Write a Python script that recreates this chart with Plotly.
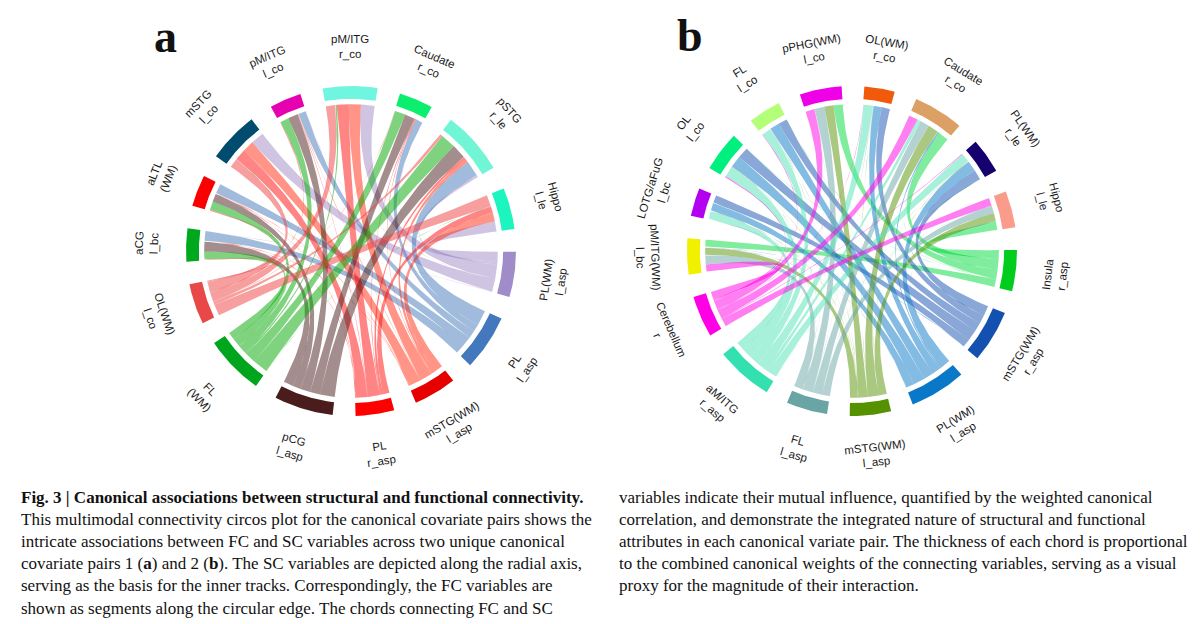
import numpy as np
import plotly.graph_objects as go

# ---------- panel a data ----------
a_labels = ["pM/ITG<br>r_co", "Caudate<br>r_co", "pSTG<br>r_le", "Hippo<br>l_le",
            "PL(WM)<br>l_asp", "PL<br>l_asp", "mSTG(WM)<br>l_asp", "PL<br>r_asp", "pCG<br>l_asp",
            "FL<br>(WM)", "OL(WM)<br>l_co", "aCG<br>l_bc", "aLTL<br>(WM)", "mSTG<br>l_co", "pM/ITG<br>l_co"]
a_targets = [0, 1, 2, 3, 11, 12, 13, 14]
a_sources = [4, 5, 6, 7, 8, 9, 10]
# weight of each source towards targets, in a_targets order
a_PLWM = [5.4, 0.2, 0.9, 4.0, 0.1, 0.0, 5.2, 0.1]
a_PL   = [0.0, 2.8, 6.2, 0.0, 3.8, 3.8, 0.0, 3.0]
a_mSTG = [4.8, 0.3, 1.4, 3.4, 0.2, 0.2, 4.6, 0.2]
a_PLr  = [4.7, 0.3, 1.0, 2.6, 0.2, 0.2, 4.4, 0.2]
a_pCG  = [0.0, 4.0, 5.8, 0.0, 3.9, 3.2, 0.0, 3.9]
a_FL   = [0.7, 4.2, 6.0, 0.1, 3.0, 3.4, 0.1, 3.4]
a_OL   = [3.6, 0.2, 1.2, 4.5, 0.4, 0.4, 3.6, 0.4]
a_colors = ["#70F5E0", "#0CEE6E", "#70F5D5", "#1CF5BE", "#A08CC8", "#4478BC", "#E60000", "#FF0000",
            "#4A1C1C", "#00A51E", "#E84848", "#00A81E", "#FA0000", "#004C6E", "#E600B0"]
a_link_colors = dict(zip(a_sources, ["#A08CC8", "#4478BC", "#FF2A10", "#FF0A0A", "#4A1C1C", "#00A800", "#F04040"]))

# ---------- panel b data ----------
b_labels = ["OL(WM)<br>r_co", "Caudate<br>r_co", "PL(WM)<br>r_le", "Hippo<br>l_le", "Insula<br>r_asp",
            "mSTG(WM)<br>r_asp", "PL(WM)<br>l_asp", "mSTG(WM)<br>l_asp", "FL<br>l_asp", "aM/ITG<br>r_asp",
            "Cerebellum<br>r", "pM/ITG(WM)<br>l_bc", "LOTG/aFuG<br>l_bc", "OL<br>l_co", "FL<br>l_co",
            "pPHG(WM)<br>l_co"]
b_targets = [0, 1, 2, 3, 11, 12, 13, 14, 15]
b_sources = [4, 5, 6, 7, 8, 9, 10]
b_Ins  = [0.0, 4.2, 0.2, 3.3, 3.0, 0.0, 0.1, 0.1, 3.6]
b_mSTr = [3.3, 0.1, 4.0, 0.0, 0.1, 3.2, 4.4, 3.4, 0.0]
b_PLl  = [3.2, 0.6, 4.2, 0.1, 0.1, 3.2, 4.6, 3.9, 0.0]
b_mSTl = [0.1, 4.2, 0.1, 3.2, 3.0, 0.1, 0.1, 0.1, 3.6]
b_FLl  = [0.1, 3.6, 0.1, 3.0, 3.4, 0.1, 0.1, 0.1, 4.0]
b_aM   = [3.8, 1.4, 3.5, 0.1, 0.1, 3.2, 4.4, 3.6, 0.1]
b_Cer  = [0.2, 3.6, 0.3, 3.2, 3.0, 0.1, 0.4, 0.3, 3.5]
b_colors = ["#F05A0A", "#DCA064", "#14006E", "#FA9B8C", "#00CD1E", "#1450AF", "#0A78C8", "#559100",
            "#69A5A5", "#32E1AF", "#FF00E6", "#F0F000", "#B400F0", "#00F080", "#B4FF78", "#F000E6"]
b_link_colors = dict(zip(b_sources, ["#00DC3C", "#1450AF", "#0A78C8", "#559100", "#69A5A5", "#50E1B4", "#FF00E6"]))

# ---------- caption ----------
caption_left = [
    "<b>Fig. 3 | Canonical associations between structural and functional connectivity.</b>",
    "This multimodal connectivity circos plot for the canonical covariate pairs shows the",
    "intricate associations between FC and SC variables across two unique canonical",
    "covariate pairs 1 (<b>a</b>) and 2 (<b>b</b>). The SC variables are depicted along the radial axis,",
    "serving as the basis for the inner tracks. Correspondingly, the FC variables are",
    "shown as segments along the circular edge. The chords connecting FC and SC",
]
caption_right = [
    "variables indicate their mutual influence, quantified by the weighted canonical",
    "correlation, and demonstrate the integrated nature of structural and functional",
    "attributes in each canonical variate pair. The thickness of each chord is proportional",
    "to the combined canonical weights of the connecting variables, serving as a visual",
    "proxy for the magnitude of their interaction.",
]

W, H = 1200, 624
R_OUT, R_IN, R_CHORD, R_LABEL = 1.0, 0.922, 0.89, 1.24
PX = 165.0


def pol(theta_deg, r):
    t = np.radians(theta_deg)
    return r * np.sin(t), r * np.cos(t)


def arc(a0, a1, r, n=40):
    return pol(np.linspace(a0, a1, n), r)


def bez(p, q, n=60):
    t = np.linspace(0, 1, n)
    return (1 - t) ** 2 * p[0] + t ** 2 * q[0], (1 - t) ** 2 * p[1] + t ** 2 * q[1]


def hex_rgba(c, alpha):
    return f"rgba({int(c[1:3],16)},{int(c[3:5],16)},{int(c[5:7],16)},{alpha})"


def add_panel(fig, labels, colors, link_colors, sources, targets, matrix, start, xa, ya, xref, yref):
    n = len(labels)
    totals = [0.0] * n
    for i, s in enumerate(sources):
        for j, t in enumerate(targets):
            totals[s] += matrix[i][j]
            totals[t] += matrix[i][j]
    gap = (360 - sum(totals)) / n
    starts, pos = [], start
    for v in totals:
        starts.append(pos)
        pos += v + gap
    mids = [starts[k] + totals[k] / 2 for k in range(n)]

    band = {}
    for k in range(n):
        if k in sources:
            i = sources.index(k)
            others = [(targets[j], matrix[i][j]) for j in range(len(targets))]
        else:
            j = targets.index(k)
            others = [(sources[i], matrix[i][j]) for i in range(len(sources))]
        others.sort(key=lambda o: -((mids[o[0]] - mids[k]) % 360))
        pos = starts[k]
        for other, w in others:
            band[(k, other)] = (pos, pos + w)
            pos += w

    def scat(x, y, color):
        fig.add_trace(go.Scatter(x=x, y=y, mode="lines", fill="toself", fillcolor=color,
                                 line=dict(width=0), hoverinfo="skip", showlegend=False,
                                 xaxis=xa, yaxis=ya))

    for i, s in enumerate(sources):
        for j, t in enumerate(targets):
            if matrix[i][j] <= 0:
                continue
            s0, s1 = band[(s, t)]
            t0, t1 = band[(t, s)]
            ax, ay = arc(s0, s1, R_CHORD, 12)
            bx, by = arc(t0, t1, R_CHORD, 12)
            c1x, c1y = bez(pol(s1, R_CHORD), pol(t0, R_CHORD))
            c2x, c2y = bez(pol(t1, R_CHORD), pol(s0, R_CHORD))
            scat(np.r_[ax, c1x, bx, c2x].round(4).tolist(), np.r_[ay, c1y, by, c2y].round(4).tolist(),
                 hex_rgba(link_colors[s], 0.5))

    for k in range(n):
        ox, oy = arc(starts[k], starts[k] + totals[k], R_OUT)
        ix, iy = arc(starts[k] + totals[k], starts[k], R_IN)
        scat(np.r_[ox, ix].round(4).tolist(), np.r_[oy, iy].round(4).tolist(), colors[k])

    for k in range(n):
        m = mids[k] % 360
        ang = m if (m < 90 or m > 270) else m - 180
        if ang > 180:
            ang -= 360
        lx, ly = pol(m, R_LABEL)
        fig.add_annotation(x=float(lx), y=float(ly), xref=xref, yref=yref, text=labels[k], showarrow=False,
                           textangle=float(ang), font=dict(family="Liberation Sans", size=11.5, color="#1a1a1a"),
                           align="center")


fig = go.Figure()
a_matrix = [a_PLWM, a_PL, a_mSTG, a_PLr, a_pCG, a_FL, a_OL]
b_matrix = [b_Ins, b_mSTr, b_PLl, b_mSTl, b_FLl, b_aM, b_Cer]
add_panel(fig, a_labels, a_colors, a_link_colors, a_sources, a_targets, a_matrix, -9.9, "x", "y", "x", "y")
add_panel(fig, b_labels, b_colors, b_link_colors, b_sources, b_targets, b_matrix, 4.3, "x2", "y2", "x2", "y2")

CY = 251.0
yr = [-(H - CY) / PX, CY / PX]
ax_off = dict(visible=False, showgrid=False, zeroline=False)
fig.update_layout(
    width=W, height=H, autosize=False, margin=dict(l=0, r=0, t=0, b=0),
    paper_bgcolor="white", plot_bgcolor="white", showlegend=False,
    xaxis=dict(domain=[0, 0.5], range=[-351 / PX, 249 / PX], **ax_off),
    yaxis=dict(domain=[0, 1], range=yr, **ax_off),
    xaxis2=dict(domain=[0.5, 1], range=[-252 / PX, 348 / PX], **ax_off),
    yaxis2=dict(domain=[0, 1], range=yr, anchor="x2", **ax_off),
)


def paper_text(x, y, text, size, family="Liberation Serif", color="#111111"):
    fig.add_annotation(x=x / W, y=1 - y / H, xref="paper", yref="paper", text=text, showarrow=False,
                       xanchor="left", yanchor="middle", align="left",
                       font=dict(family=family, size=size, color=color))


paper_text(152, 36, "<b>a</b>", 46)
paper_text(675, 35, "<b>b</b>", 46)
for i, line in enumerate(caption_left):
    paper_text(19, 497.5 + i * 22.1, line, 17)
for i, line in enumerate(caption_right):
    paper_text(617, 497.5 + i * 22.1, line, 17)

fig.write_html("out.html", config={"displayModeBar": False},
               post_script="document.documentElement.style.margin='0';document.body.style.margin='0';document.body.style.overflow='hidden';")
